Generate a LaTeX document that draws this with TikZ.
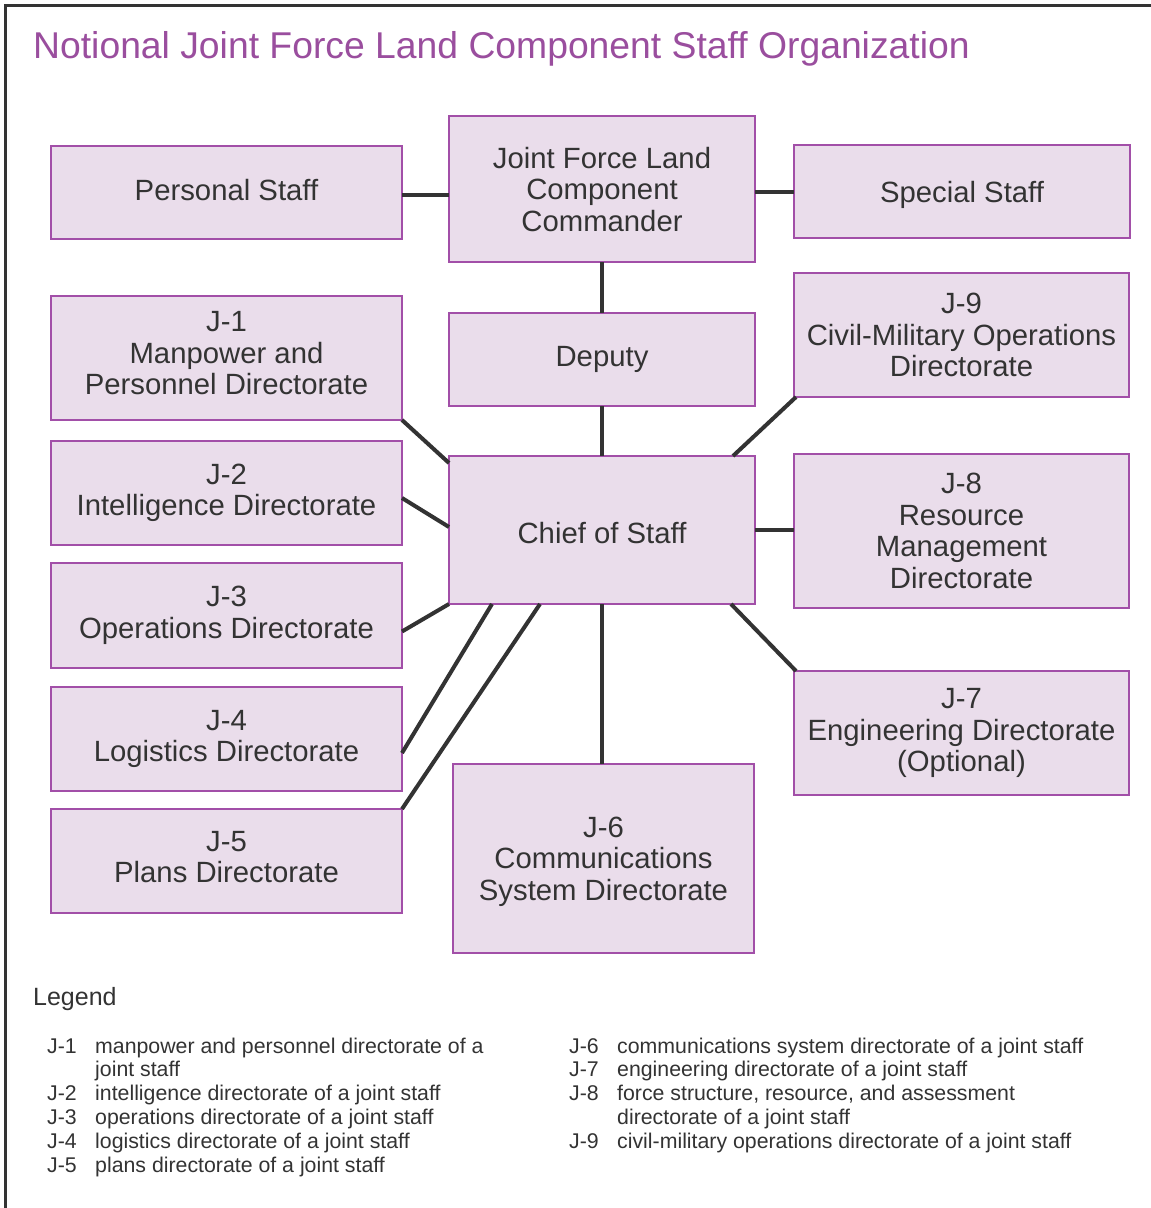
\documentclass[tikz,border=0pt]{standalone}
\usepackage{fontspec}
\setmainfont{Liberation Sans}
\usetikzlibrary{calc}
\definecolor{boxfill}{HTML}{EADDEB}
\definecolor{boxline}{HTML}{A24FA8}
\definecolor{titlec}{HTML}{9A4E9E}
\definecolor{ink}{HTML}{333333}
\begin{document}
\begin{tikzpicture}[x=1pt,y=-1pt,
  box/.style={draw=boxline, fill=boxfill, line width=1.3pt, anchor=north west, align=center,
    text=ink, inner sep=0pt, outer sep=0pt, font=\fontsize{29.3}{31.5}\selectfont},
  tdp/.style={text depth=#1},
  conn/.style={draw=ink, line width=4pt},
  leg/.style={anchor=base west, text=ink, inner sep=0pt, font=\fontsize{21.3}{24}\selectfont}]
\useasboundingbox (0,0) rectangle (1151,1208);
\fill[white] (0,0) rectangle (1151,1208);
\draw[ink, line width=3pt] (5,1215) -- (5,5) -- (1160,5);
\node[anchor=base west, text=titlec, inner sep=0pt, font=\fontsize{37.3}{42}\selectfont] (title) at (33,58.5) {Notional Joint Force Land Component Staff Organization};

\node[box, tdp=6pt, minimum width=351pt, minimum height=93pt] (ps) at (51,146) {Personal Staff};
\node[box, tdp=-4pt, minimum width=306pt, minimum height=146pt] (cdr) at (449,116) {Joint Force Land\\Component\\Commander};
\node[box, tdp=-1.8pt, minimum width=336pt, minimum height=93pt] (ss) at (794,145) {Special Staff};
\node[box, tdp=10pt, minimum width=351pt, minimum height=124pt] (j1) at (51,296) {J-1\\Manpower and\\Personnel Directorate};
\node[box, minimum width=306pt, minimum height=93pt] (dep) at (449,313) {Deputy};
\node[box, minimum width=335pt, minimum height=124pt] (j9) at (794,273) {J-9\\Civil-Military Operations\\Directorate};
\node[box, minimum width=351pt, minimum height=104pt] (j2) at (51,441) {J-2\\Intelligence Directorate};
\node[box, text height=27.5pt, text depth=0pt, minimum width=306pt, minimum height=148pt] (cos) at (449,456) {Chief of Staff};
\node[box, minimum width=335pt, minimum height=154pt] (j8) at (794,454) {J-8\\Resource\\Management\\Directorate};
\node[box, minimum width=351pt, minimum height=105pt] (j3) at (51,563) {J-3\\Operations Directorate};
\node[box, minimum width=351pt, minimum height=104pt] (j4) at (51,687) {J-4\\Logistics Directorate};
\node[box, minimum width=335pt, minimum height=124pt] (j7) at (794,671) {J-7\\Engineering Directorate\\(Optional)};
\node[box, tdp=8pt, minimum width=351pt, minimum height=104pt] (j5) at (51,809) {J-5\\Plans Directorate};
\node[box, tdp=0.2pt, minimum width=301pt, minimum height=189pt] (j6) at (453,764) {J-6\\Communications\\System Directorate};

\draw[conn] ([yshift=-2pt]ps.east) -- ([yshift=-2pt]ps.east -| cdr.west);
\draw[conn] ([yshift=-3pt]cdr.east) -- ([yshift=-3pt]cdr.east -| ss.west);
\draw[conn] (cdr.south) -- (dep.north);
\draw[conn] (dep.south) -- (cos.north);
\draw[conn] (j1.south east) -- ([yshift=-7pt]cos.north west);
\draw[conn] ([yshift=-5pt]j2.east) -- ([yshift=3pt]cos.west);
\draw[conn] ([yshift=-16pt]j3.east) -- (cos.south west);
\draw[conn] ([yshift=-14pt]j4.east) -- ([xshift=43pt]cos.south west);
\draw[conn] (j5.north east) -- ([xshift=91pt]cos.south west);
\draw[conn] (cos.south) -- (cos.south |- j6.north);
\draw[conn] ([xshift=2pt]j9.south west) -- ([xshift=-22pt]cos.north east);
\draw[conn] (cos.east) -- (cos.east -| j8.west);
\draw[conn] ([xshift=-24pt]cos.south east) -- ([xshift=2pt]j7.north west);

\node[leg, font=\fontsize{25}{28}\selectfont] (legend) at (33,1005) {Legend};
\node[leg] (l1a) at (47,1053) {J-1};
\node[leg] (l1b) at (95,1053) {manpower and personnel directorate of a};
\node[leg] (l1c) at (95,1076.5) {joint staff};
\node[leg] (l2a) at (47,1100.5) {J-2};
\node[leg] (l2b) at (95,1100.5) {intelligence directorate of a joint staff};
\node[leg] (l3a) at (47,1124.5) {J-3};
\node[leg] (l3b) at (95,1124.5) {operations directorate of a joint staff};
\node[leg] (l4a) at (47,1148.5) {J-4};
\node[leg] (l4b) at (95,1148.5) {logistics directorate of a joint staff};
\node[leg] (l5a) at (47,1172) {J-5};
\node[leg] (l5b) at (95,1172) {plans directorate of a joint staff};
\node[leg] (l6a) at (569,1053) {J-6};
\node[leg] (l6b) at (617,1053) {communications system directorate of a joint staff};
\node[leg] (l7a) at (569,1076.5) {J-7};
\node[leg] (l7b) at (617,1076.5) {engineering directorate of a joint staff};
\node[leg] (l8a) at (569,1100.5) {J-8};
\node[leg] (l8b) at (617,1100.5) {force structure, resource, and assessment};
\node[leg] (l8c) at (617,1124.5) {directorate of a joint staff};
\node[leg] (l9a) at (569,1148.5) {J-9};
\node[leg] (l9b) at (617,1148.5) {civil-military operations directorate of a joint staff};
\end{tikzpicture}
\end{document}
